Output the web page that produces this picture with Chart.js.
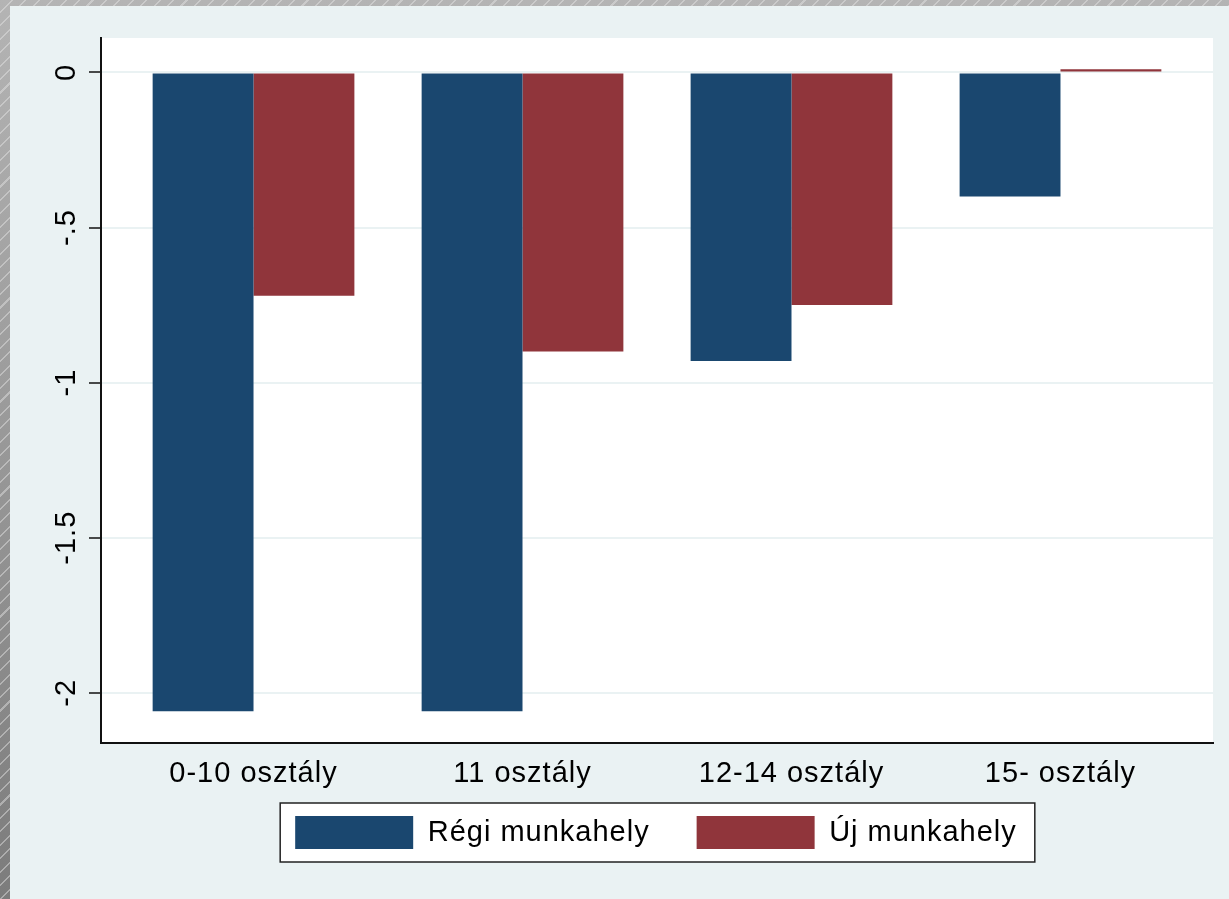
<!DOCTYPE html>
<html><head><meta charset="utf-8">
<script src="https://cdn.jsdelivr.net/npm/chart.js@4.4.1/dist/chart.umd.min.js"></script>
<style>
html,body{margin:0;padding:0;width:1229px;height:899px;overflow:hidden;}
body{background:
  repeating-linear-gradient(135deg, rgba(255,255,255,0) 0px, rgba(255,255,255,0) 8px, rgba(230,230,230,0.45) 8px, rgba(230,230,230,0.45) 9.5px),
  linear-gradient(180deg,#b4b4b4,#7c7c7c);}
#wrap{position:absolute;left:10px;top:6px;width:1219px;height:893px;background:#EAF2F3;}
canvas{display:block;}
</style></head><body>
<div id="wrap"><canvas id="c" width="1219" height="893"></canvas></div>
<script>
const categories = ['0-10 osztály', '11 osztály', '12-14 osztály', '15- osztály'];
const regiMunkahely = [-2.06, -2.06, -0.93, -0.40];
const ujMunkahely = [-0.72, -0.90, -0.75, 0.01];
const seriesNames = ['Régi munkahely', 'Új munkahely'];
const yTickValues = [0, -0.5, -1, -1.5, -2];
const yTickLabels = ['0', '-.5', '-1', '-1.5', '-2'];

const FONT = {family: "'Liberation Sans', Arial, sans-serif", size: 29};
const LS = '1px';
const LEG_PAD = 47;
const SWATCH_TOP = 810;

const spacing = {
  id: 'spacing',
  beforeUpdate(c) { c.ctx.letterSpacing = LS; },
  beforeLayout(c) { c.ctx.letterSpacing = LS; },
  beforeDraw(c) { c.ctx.letterSpacing = LS; }
};

const frame = {
  id: 'frame',
  afterLayout(c) {
    const L = c.legend;
    const target = (c.chartArea.left + c.chartArea.right) / 2 - 1;
    const d = target - (L.left + L.right) / 2;
    L.left += d; L.right += d;
    const dy = (SWATCH_TOP - LEG_PAD) - L.top;
    L.top += dy; L.bottom += dy;
  },
  beforeDraw(c) {
    const ctx = c.ctx, a = c.chartArea;
    ctx.save();
    ctx.fillStyle = '#ffffff';
    ctx.fillRect(a.left, a.top, a.right - a.left, a.bottom - a.top);
    const L = c.legend;
    const start = (L.left + LEG_PAD + L.right - L.lineWidths[0]) / 2;
    const end = start + L.lineWidths[0] - LEG_PAD;
    const top = L.top + LEG_PAD - 13, bottom = L.top + LEG_PAD + 33 + 13;
    const x0 = start - 15, x1 = end + 18;
    ctx.fillRect(x0, top, x1 - x0, bottom - top);
    ctx.strokeStyle = '#222';
    ctx.lineWidth = 1.5;
    ctx.strokeRect(x0, top, x1 - x0, bottom - top);
    ctx.restore();
  }
};

new Chart(document.getElementById('c'), {
  type: 'bar',
  data: {
    datasets: [
      {label: seriesNames[0], data: categories.map((c, i) => ({x: i, y: regiMunkahely[i]})), backgroundColor: '#1A476F', borderWidth: 0},
      {label: seriesNames[1], data: categories.map((c, i) => ({x: i, y: ujMunkahely[i]})), backgroundColor: '#90353B', borderWidth: 0}
    ]
  },
  options: {
    responsive: false,
    animation: false,
    devicePixelRatio: 1,
    categoryPercentage: 0.75,
    barPercentage: 1,
    layout: {padding: {left: 0, top: 32, right: 16, bottom: 10.3}},
    plugins: {
      tooltip: {enabled: false},
      legend: {
        position: 'bottom',
        labels: {boxWidth: 118, boxHeight: 33, padding: LEG_PAD, font: FONT, color: '#000'}
      }
    },
    scales: {
      x: {
        type: 'linear', min: -0.567, max: 3.567, offset: false,
        grid: {display: false, drawTicks: false, offset: false},
        border: {display: true, color: '#111', width: 2},
        afterBuildTicks(s) { s.ticks = categories.map((c, i) => ({value: i})); },
        ticks: {callback: (v, i) => categories[i], font: FONT, color: '#000', padding: 14, maxRotation: 0, autoSkip: false},
        afterFit(s) { s.height = 56; }
      },
      y: {
        min: -2.161, max: 0.111,
        afterBuildTicks(s) { s.ticks = yTickValues.map(v => ({value: v})); },
        ticks: {callback: (v, i) => yTickLabels[i], minRotation: 90, maxRotation: 90, crossAlign: 'center', padding: -5, font: FONT, color: '#000', autoSkip: false},
        grid: {color: '#EAF2F3', lineWidth: 2, tickColor: '#111', tickWidth: 1.5, tickLength: 12, drawTicks: true},
        border: {display: true, color: '#111', width: 2},
        afterFit(s) { s.width = 91; }
      }
    }
  },
  plugins: [spacing, frame]
});
</script>
</body></html>
